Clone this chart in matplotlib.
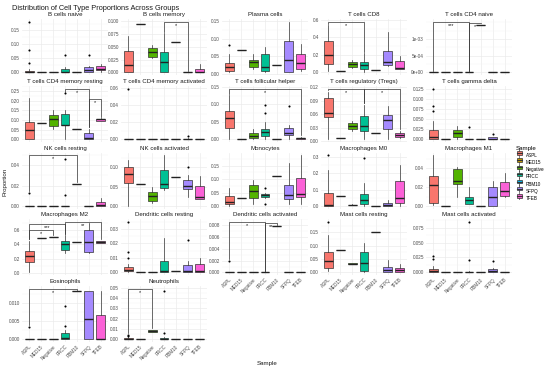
import matplotlib
matplotlib.use('Agg')
import matplotlib.pyplot as plt
from matplotlib.ticker import MultipleLocator, FixedLocator, FuncFormatter, AutoMinorLocator
from matplotlib.legend_handler import HandlerBase
from matplotlib.patches import Rectangle
from matplotlib.lines import Line2D

plt.rcParams['font.family'] = ['Liberation Sans', 'DejaVu Sans']

samples = ['ASPL', 'MED15', 'Negative', 'PRCC', 'RBM10', 'SFPQ', 'TFEB']
colors = ['#F8766D', '#C49A00', '#53B400', '#00C094', '#00B6EB', '#A58AFF', '#FB61D7']

Z = (0, 0, 0, 0, 0, [])


def one(v):
    # group with a single sample
    return (v, v, v, v, v, [])


# one row per sample: whisker low, q1, median, q3, whisker high, outliers
b_cells_naive = [(0, 0, 0.002, 0.006, 0.012, [0.034, 0.081, 0.182]), Z, Z,
                 (0, 0, 0.003, 0.011, 0.02, [0.063]), Z,
                 (0, 0.003, 0.008, 0.02, 0.024, [0.063]),
                 (0.002, 0.007, 0.013, 0.024, 0.03, [])]
b_cells_memory = [(0, 0, 0.015, 0.042, 0.071, []), one(0.094),
                  (0.028, 0.031, 0.040, 0.047, 0.053, []),
                  (0, 0, 0.021, 0.040, 0.076, []), one(0.060), Z,
                  (0, 0, 0.001, 0.007, 0.017, [])]
plasma_cells = [(0.003, 0.008, 0.019, 0.031, 0.055, [0.081]), one(0.066),
                (0.014, 0.019, 0.034, 0.040, 0.055, []),
                (0.003, 0.008, 0.019, 0.055, 0.076, []), one(0.024),
                (0.003, 0.003, 0.040, 0.092, 0.149, []),
                (0.008, 0.014, 0.029, 0.055, 0.086, [])]
t_cd8 = [(0.02, 0.10, 0.20, 0.36, 0.54, []), one(0.012),
         (0.048, 0.06, 0.10, 0.12, 0.14, []),
         (0, 0.04, 0.08, 0.12, 0.22, []), one(0.028),
         (0.068, 0.08, 0.12, 0.24, 0.46, []),
         (0.04, 0.04, 0.055, 0.13, 0.19, [])]
t_cd4_naive = [Z, Z, Z, Z, one(0.00142), Z, Z]
t_cd4_mem_resting = [(0, 0, 0.048, 0.090, 0.215, []), one(0.083),
                     (0.052, 0.069, 0.103, 0.124, 0.152, []),
                     (0, 0.072, 0.074, 0.129, 0.152, [0.238]), one(0.055),
                     (0, 0, 0.009, 0.031, 0.055, []),
                     (0.093, 0.095, 0.103, 0.107, 0.109, [])]
t_cd4_mem_activated = [(0, 0, 0, 0, 0, [0.059]), Z, Z, Z, Z,
                       (0, 0, 0, 0.001, 0.002, [0.0043]), Z]
t_follicular = [(0, 0.032, 0.062, 0.082, 0.126, []), Z,
                (0, 0.005, 0.011, 0.018, 0.030, []),
                (0, 0.009, 0.020, 0.030, 0.050, [0.074, 0.097]), Z,
                (0, 0.012, 0.018, 0.032, 0.040, [0.094]),
                (0, 0.002, 0.003, 0.005, 0.008, [])]
t_tregs = [(0.004, 0.054, 0.062, 0.095, 0.11, []), one(0.008),
           (0.023, 0.027, 0.033, 0.041, 0.046, []),
           (0.004, 0.023, 0.033, 0.056, 0.081, []), one(0.019),
           (0.004, 0.028, 0.048, 0.058, 0.079, []),
           (0.008, 0.010, 0.014, 0.019, 0.023, [])]
t_gamma_delta = [(0, 0, 0.005, 0.023, 0.046, [0.069, 0.081, 0.125]), Z,
                 (0, 0.005, 0.016, 0.023, 0.032, []),
                 (0, 0, 0, 0, 0, [0.030]), Z,
                 (0, 0, 0.001, 0.005, 0.007, [0.014]), Z]
nk_resting = [(0, 0, 0, 0, 0, [0.013]), Z, Z,
              (0, 0, 0, 0, 0, [0.011, 0.046]), one(0.022), Z,
              (0, 0, 0.001, 0.004, 0.008, [])]
nk_activated = [(0, 0.059, 0.082, 0.101, 0.12, []), one(0.057),
                (0.008, 0.012, 0.025, 0.036, 0.048, []),
                (0.042, 0.047, 0.057, 0.094, 0.132, []), one(0.075),
                (0.022, 0.045, 0.052, 0.067, 0.08, [0.102]),
                (0.017, 0.019, 0.022, 0.052, 0.078, [])]
monocytes = [(0, 0.009, 0.016, 0.037, 0.067, []), one(0.030),
             (0.009, 0.030, 0.055, 0.077, 0.098, []),
             (0.03, 0.034, 0.040, 0.045, 0.05, [0.009, 0.067]), one(0.11),
             (0.007, 0.026, 0.040, 0.080, 0.16, []),
             (0.007, 0.033, 0.044, 0.106, 0.19, [])]
macrophages_m0 = [(0, 0, 0.003, 0.08, 0.22, [0.31]), one(0.058),
                  (0.004, 0.005, 0.006, 0.008, 0.009, []),
                  (0, 0.01, 0.035, 0.075, 0.14, [0.29]), one(0.001),
                  (0, 0, 0.005, 0.018, 0.035, []),
                  (0, 0.02, 0.046, 0.15, 0.25, [])]
macrophages_m1 = [(0.001, 0.003, 0.022, 0.032, 0.054, []), Z,
                  (0.010, 0.023, 0.026, 0.039, 0.041, []),
                  (0.002, 0.0024, 0.0064, 0.009, 0.02, []), Z,
                  (0, 0, 0.009, 0.02, 0.027, []),
                  (0.009, 0.011, 0.016, 0.025, 0.035, [])]
macrophages_m2 = [(0.01, 0.15, 0.24, 0.31, 0.45, []), one(0.49), one(0.51),
                  (0.28, 0.33, 0.41, 0.45, 0.53, []), one(0.43),
                  (0.28, 0.29, 0.43, 0.60, 0.70, []),
                  (0.42, 0.42, 0.44, 0.45, 0.45, [])]
dc_resting = [(0, 0.001, 0.002, 0.004, 0.006, [0.010, 0.014, 0.035]), Z, Z,
              (0, 0, 0.001, 0.008, 0.024, []), one(0.001),
              (0, 0, 0.001, 0.005, 0.008, [0.022]),
              (0, 0, 0.001, 0.006, 0.010, [])]
dc_activated = [(0, 0, 0, 0, 0, [0.002]), Z, Z, Z, one(0.0078), Z, Z]
mast_resting = [(0.005, 0.017, 0.042, 0.075, 0.14, [0.19]), one(0.083),
                (0.03, 0.031, 0.033, 0.035, 0.036, []),
                (0, 0.005, 0.036, 0.075, 0.11, []), one(0.15),
                (0, 0.002, 0.010, 0.020, 0.045, []),
                (0, 0.003, 0.008, 0.015, 0.030, [])]
mast_activated = [(0, 0, 0.002, 0.005, 0.01, [0.022, 0.027]), Z, Z,
                  (0, 0, 0, 0.001, 0.002, [0.02, 0.085]), Z,
                  (0, 0, 0.002, 0.005, 0.008, [0.019]), Z]
eosinophils = [(0, 0, 0, 0, 0, [0.0035]), Z, Z,
               (0, 0, 0.0003, 0.0017, 0.0025, [0.0038, 0.009]), one(0.0132),
               (0, 0, 0.0057, 0.0132, 0.0132, []),
               (0, 0, 0, 0.0066, 0.0132, [])]
neutrophils = [(0, 0, 0.0003, 0.001, 0.002, [0.003, 0.0045]), Z,
               (0.0068, 0.007, 0.008, 0.009, 0.0092, []),
               (0, 0, 0.0005, 0.001, 0.002, [0.006, 0.047]), Z, Z, Z]

panels = [
    ('B cells naive', b_cells_naive), ('B cells memory', b_cells_memory),
    ('Plasma cells', plasma_cells), ('T cells CD8', t_cd8),
    ('T cells CD4 naive', t_cd4_naive),
    ('T cells CD4 memory resting', t_cd4_mem_resting),
    ('T cells CD4 memory activated', t_cd4_mem_activated),
    ('T cells follicular helper', t_follicular),
    ('T cells regulatory (Tregs)', t_tregs),
    ('T cells gamma delta', t_gamma_delta),
    ('NK cells resting', nk_resting), ('NK cells activated', nk_activated),
    ('Monocytes', monocytes), ('Macrophages M0', macrophages_m0),
    ('Macrophages M1', macrophages_m1), ('Macrophages M2', macrophages_m2),
    ('Dendritic cells resting', dc_resting),
    ('Dendritic cells activated', dc_activated),
    ('Mast cells resting', mast_resting),
    ('Mast cells activated', mast_activated),
    ('Eosinophils', eosinophils), ('Neutrophils', neutrophils),
]

tick_steps = [0.05, 0.025, 0.05, 0.2, 5e-4,
              0.05, 0.02, 0.05, 0.03, 0.025,
              0.02, 0.05, 0.05, 0.1, 0.02,
              0.2, 0.01, 0.002, 0.05, 0.025,
              0.005, 0.01]
fixed_ticks = {'T cells CD4 naive': [0, 5e-4, 1e-3]}

# significance brackets: panel, group 1, group 2, label, height
brackets = [
    ('B cells memory', 'PRCC', 'SFPQ', '*', 0.099),
    ('T cells CD8', 'ASPL', 'PRCC', '*', 0.58),
    ('T cells CD4 naive', 'ASPL', 'PRCC', '***', 0.00152),
    ('T cells CD4 naive', 'PRCC', 'RBM10', '*', 0.00147),
    ('T cells CD4 memory resting', 'PRCC', 'SFPQ', '*', 0.262),
    ('T cells CD4 memory resting', 'SFPQ', 'TFEB', '*', 0.207),
    ('T cells follicular helper', 'ASPL', 'TFEB', '*', 0.145),
    ('T cells regulatory (Tregs)', 'ASPL', 'PRCC', '*', 0.117),
    ('T cells regulatory (Tregs)', 'PRCC', 'TFEB', '*', 0.117),
    ('NK cells resting', 'ASPL', 'RBM10', '*', 0.050),
    ('Macrophages M2', 'ASPL', 'Negative', '*', 0.60),
    ('Macrophages M2', 'ASPL', 'PRCC', '***', 0.68),
    ('Macrophages M2', 'PRCC', 'TFEB', '**', 0.72),
    ('Dendritic cells activated', 'ASPL', 'PRCC', '*', 0.0086),
    ('Dendritic cells activated', 'PRCC', 'RBM10', '**', 0.0083),
    ('Eosinophils', 'ASPL', 'RBM10', '*', 0.0139),
    ('Neutrophils', 'ASPL', 'Negative', '*', 0.049),
]


class BoxKey(HandlerBase):
    def create_artists(self, legend, orig, xd, yd, width, height, fontsize, trans):
        cx = xd + width / 2
        whisk = Line2D([cx, cx], [yd - height * 0.1, yd + height * 1.1],
                       color='#333333', lw=0.5, transform=trans)
        box = Rectangle((xd + width * 0.1, yd + height * 0.2), width * 0.8,
                        height * 0.6, facecolor=orig.get_facecolor(),
                        edgecolor='#333333', lw=0.5, transform=trans)
        med = Line2D([xd + width * 0.1, xd + width * 0.9], [yd + height / 2] * 2,
                     color='#333333', lw=0.8, transform=trans)
        return [whisk, box, med]


def fmt_for(step):
    if step < 1e-3:
        return FuncFormatter(lambda v, p: f'{v:.0e}')
    dec = len(f'{step:.6f}'.rstrip('0').split('.')[1])
    return FuncFormatter(lambda v, p: f'{v:.{dec}f}')


W, H = 550, 369
fig = plt.figure(figsize=(5.5, 3.69), dpi=100)
col_left = [22, 121, 222, 321, 426]
row_top = [19, 86, 152.5, 219, 286]
pw, ph = 86, 56
pos = list(range(1, len(samples) + 1))

for i, (name, stats) in enumerate(panels):
    r, c = divmod(i, 5)
    ax = fig.add_axes([col_left[c] / W, 1 - (row_top[r] + ph) / H, pw / W, ph / H])
    bx = [dict(whislo=s[0], q1=s[1], med=s[2], q3=s[3], whishi=s[4], fliers=s[5])
          for s in stats]
    out = ax.bxp(bx, positions=pos, widths=0.75, patch_artist=True, showcaps=False,
                 boxprops=dict(linewidth=0.5, edgecolor='#333333'),
                 medianprops=dict(color='#222222', linewidth=1.0),
                 whiskerprops=dict(color='#333333', linewidth=0.5),
                 flierprops=dict(marker='o', markersize=1.5, markerfacecolor='black',
                                 markeredgecolor='none'))
    for patch, col in zip(out['boxes'], colors):
        patch.set_facecolor(col)

    tops = [max([s[4]] + list(s[5])) for s in stats]
    lo = min(min([s[0]] + list(s[5])) for s in stats)
    hi = max(tops)
    own = [b for b in brackets if b[0] == name]
    if own:
        hi = max(hi, max(b[4] for b in own))
    pad = 0.05 * (hi - lo)
    gap = 0.03 * (hi - lo)
    for _, g1, g2, lab, y in own:
        x1, x2 = samples.index(g1) + 1, samples.index(g2) + 1
        y1 = min(tops[x1 - 1] + gap, y)
        y2 = min(tops[x2 - 1] + gap, y)
        ax.plot([x1, x1, x2, x2], [y1, y, y, y2], color='#333333', lw=0.5)
        ax.text((x1 + x2) / 2, y - 0.02 * (hi - lo), lab, ha='center', va='top',
                fontsize=4, color='#1A1A1A')

    ax.set_ylim(lo - pad, hi + pad)
    ax.set_xlim(0.4, len(samples) + 0.6)
    if name in fixed_ticks:
        ax.yaxis.set_major_locator(FixedLocator(fixed_ticks[name]))
    else:
        ax.yaxis.set_major_locator(MultipleLocator(tick_steps[i]))
    ax.yaxis.set_minor_locator(AutoMinorLocator(2))
    ax.yaxis.set_major_formatter(fmt_for(tick_steps[i]))
    ax.set_xticks(pos)
    if i + 5 >= len(panels):
        ax.set_xticklabels(samples, rotation=45, ha='right', rotation_mode='anchor')
    else:
        ax.set_xticklabels([])
    ax.tick_params(length=0, labelsize=3.3, colors='#4D4D4D', pad=1.5)
    ax.tick_params(which='minor', length=0)
    ax.grid(True, which='major', color='#EBEBEB', lw=0.5)
    ax.grid(True, which='minor', axis='y', color='#F3F3F3', lw=0.3)
    ax.set_axisbelow(True)
    for sp in ax.spines.values():
        sp.set_visible(False)
    ax.set_title(name, fontsize=4.4, pad=2, color='#1A1A1A')

fig.text(12 / W, 1 - 8 / H, 'Distribution of Cell Type Proportions Across Groups',
         fontsize=5.3, ha='left', va='center', color='#1A1A1A')
fig.text(5 / W, 1 - 182 / H, 'Proportion', rotation=90, fontsize=4.4,
         ha='center', va='center', color='#1A1A1A')
fig.text(267 / W, 1 - 363 / H, 'Sample', fontsize=4.4, ha='center', va='center',
         color='#1A1A1A')

handles = [Rectangle((0, 0), 1, 1, facecolor=col) for col in colors]
fig.legend(handles, samples, loc='upper left', bbox_to_anchor=(516 / W, 1 - 146 / H),
           frameon=False, fontsize=3.3, title='Sample', title_fontsize=4.4,
           handler_map={Rectangle: BoxKey()}, handlelength=1.5, handleheight=1.5,
           handletextpad=0.7, labelspacing=0.35, borderpad=0, borderaxespad=0,
           alignment='left')

fig.savefig('out.png', dpi=100)
